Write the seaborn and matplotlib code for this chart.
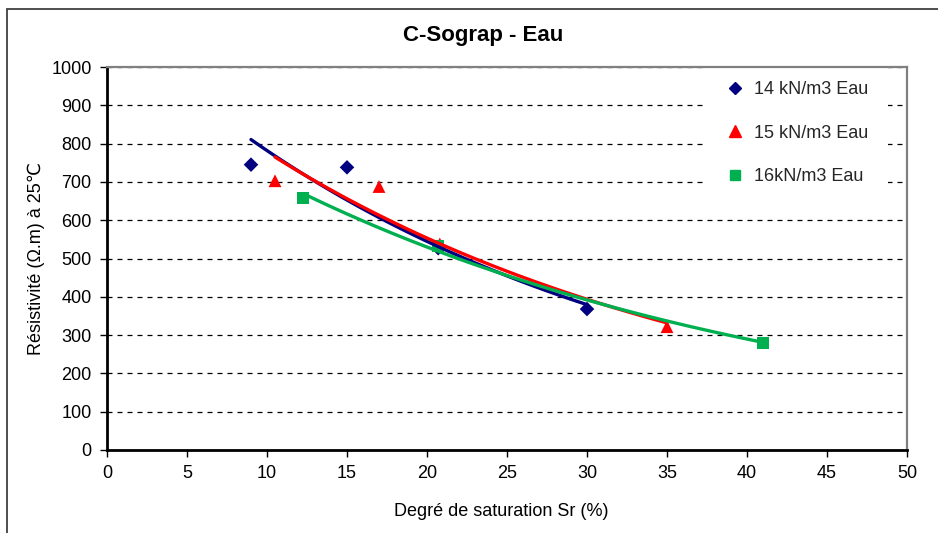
import numpy as np
import pandas as pd
import matplotlib
matplotlib.use("Agg")
import matplotlib.pyplot as plt
import seaborn as sns
from matplotlib.lines import Line2D
from matplotlib.patches import Rectangle

# Measured points: saturation degree Sr (%) and resistivity (ohm.m) at 25 °C
series_names = ["14 kN/m3 Eau", "15 kN/m3 Eau", "16kN/m3 Eau"]
sr_14 = [9.0, 15.0, 20.7, 30.0]
rho_14 = [745, 738, 527, 368]
sr_15 = [10.5, 17.0, 20.8, 35.0]
rho_15 = [703, 688, 538, 322]
sr_16 = [12.25, 20.7, 41.0]
rho_16 = [658, 532, 279]

x_ticks = list(range(0, 51, 5))
y_ticks = list(range(0, 1001, 100))

colors = {series_names[0]: "#000080", series_names[1]: "#FF0000", series_names[2]: "#00B050"}
markers = {series_names[0]: "D", series_names[1]: "^", series_names[2]: "s"}
sizes = {series_names[0]: 55, series_names[1]: 85, series_names[2]: 80}

sns.set_style("white")
plt.rcParams["font.family"] = ["Liberation Sans", "DejaVu Sans"]

df = pd.DataFrame({
    "Sr": sr_14 + sr_15 + sr_16,
    "rho": rho_14 + rho_15 + rho_16,
    "serie": [series_names[0]] * len(sr_14) + [series_names[1]] * len(sr_15) + [series_names[2]] * len(sr_16),
})

fig = plt.figure(figsize=(9.38, 5.33), dpi=100)
ax = fig.add_axes([107 / 938, 1 - 450 / 533, 800 / 938, 383 / 533])

sns.scatterplot(data=df, x="Sr", y="rho", hue="serie", style="serie", size="serie",
                palette=colors, markers=markers, sizes=sizes, edgecolor="none",
                legend=False, ax=ax, zorder=3)

# Exponential trend lines (least squares on ln(rho))
for name in series_names:
    sub = df[df["serie"] == name]
    k, c = np.polyfit(sub["Sr"], np.log(sub["rho"]), 1)
    xs = np.linspace(sub["Sr"].min(), sub["Sr"].max(), 120)
    sns.lineplot(x=xs, y=np.exp(c + k * xs), color=colors[name], lw=2.4, ax=ax, zorder=4)

ax.set_xlim(0, 50)
ax.set_ylim(0, 1000)
ax.set_xticks(x_ticks)
ax.set_yticks(y_ticks)
ax.set_axisbelow(True)
ax.yaxis.grid(True, linestyle=(0, (4, 4)), color="black", lw=0.9)
ax.xaxis.grid(False)

for side in ("left", "bottom"):
    ax.spines[side].set_color("black")
    ax.spines[side].set_linewidth(2.0)
for side in ("top", "right"):
    ax.spines[side].set_color("#808080")
    ax.spines[side].set_linewidth(1.6)

ax.tick_params(axis="both", direction="out", length=5, width=1, color="black",
               labelsize=13, labelcolor="black", pad=6)
ax.tick_params(left=True, bottom=True)

ax.set_xlabel("Degré de saturation Sr (%)", fontsize=13, color="black")
ax.set_ylabel("Résistivité (Ω.m) à 25℃", fontsize=13, color="black")
ax.xaxis.set_label_coords(0.4925, -0.138)
ax.yaxis.set_label_coords(-0.078, 0.5)

handles = [Line2D([], [], marker=markers[n], color=colors[n], ls="none",
                  markersize={"D": 6, "^": 8, "s": 7}[markers[n]]) for n in series_names]
leg = ax.legend(handles, series_names, loc="upper left",
                bbox_to_anchor=((706 - 107) / 800, 1 + 6 / 383),
                frameon=True, facecolor="white", edgecolor="none", framealpha=1,
                fancybox=False, fontsize=13, borderpad=1.1, borderaxespad=0,
                handlelength=1.0, handletextpad=0.55, labelspacing=1.48)
leg.set_zorder(2.4)

fig.text(483 / 938, 1 - 35 / 533, "C-Sograp - Eau", ha="center", va="center",
         fontsize=16, fontweight="bold", color="black")

fig.add_artist(Rectangle((7 / 938, -0.1), 1.2, 1.1 - 9 / 533, transform=fig.transFigure,
                         fill=False, edgecolor="#404040", lw=1.3))

fig.savefig("out.png", dpi=100, facecolor="white")
